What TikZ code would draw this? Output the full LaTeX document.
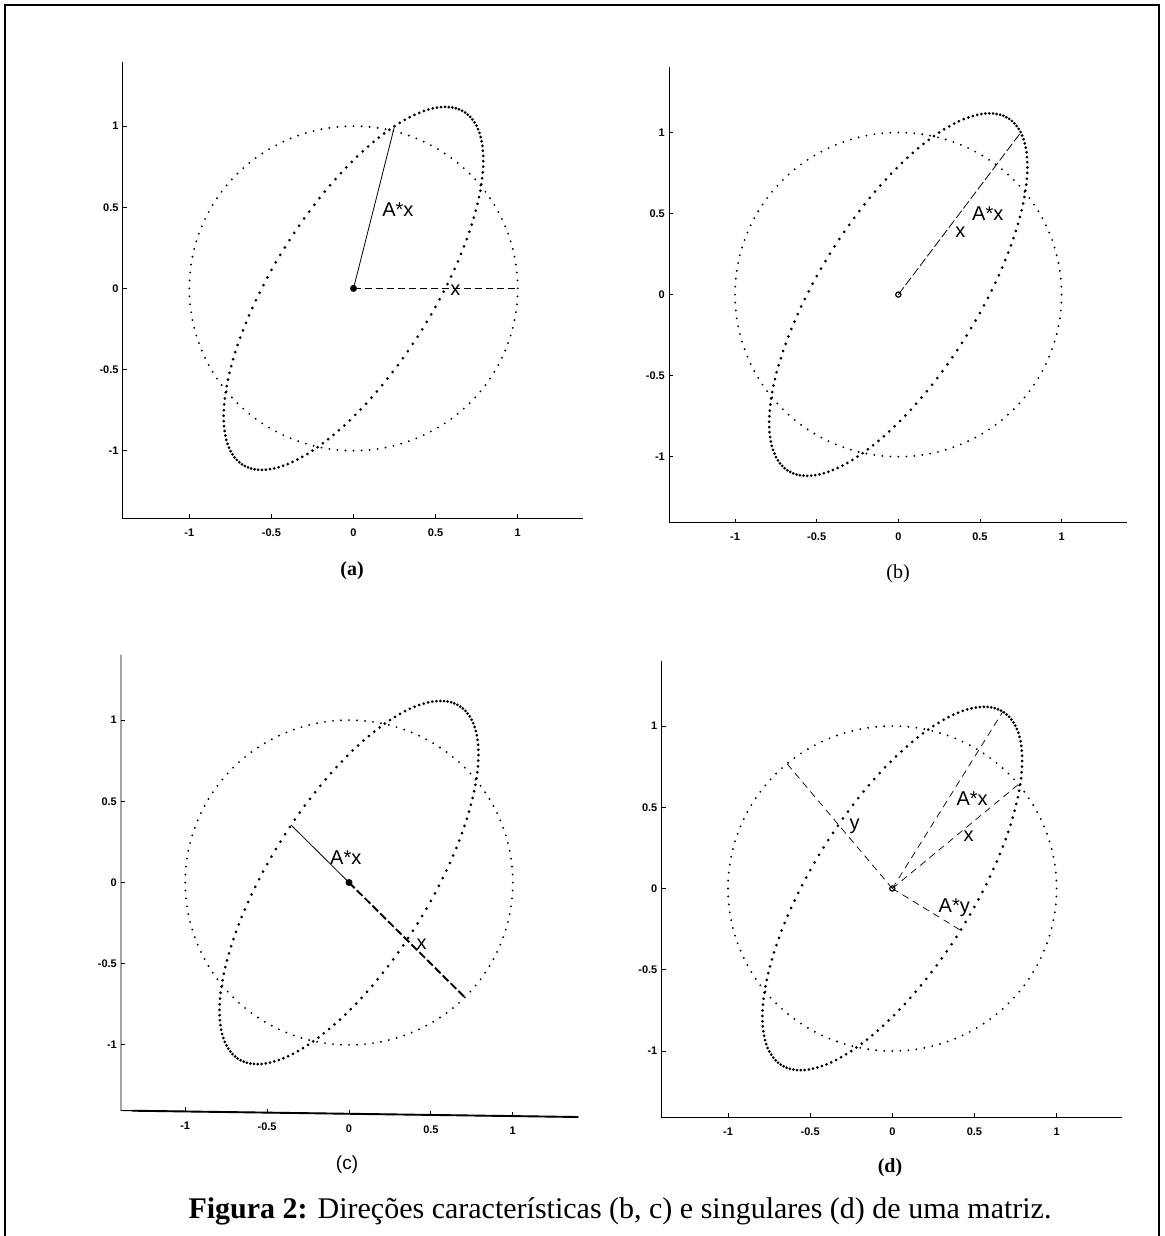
\documentclass[tikz,border=0pt]{standalone}
\usepackage{fontspec}
\setmainfont{Liberation Serif}
\setsansfont{Liberation Sans}
\begin{document}
\tikzset{
  frameline/.style={line width=2.4pt},
  axisline/.style={line width=0.9pt},
  heavyaxis/.style={line width=1.9pt},
  cdot/.style={fill=black},
  edot/.style={fill=black},
  ticklab/.style={font=\sffamily\bfseries\fontsize{11}{12}\selectfont, inner sep=0pt},
  vlab/.style={font=\sffamily\fontsize{20}{21}\selectfont, inner sep=0pt},
  sublab/.style={font=\fontsize{20}{22}\selectfont, inner sep=0pt},
  solidvec/.style={line width=0.8pt},
  dashvec/.style={line width=1.4pt, dash pattern=on 7pt off 4pt},
  longdash/.style={line width=0.8pt, dash pattern=on 9pt off 3pt},
  thickdash/.style={line width=1.9pt, dash pattern=on 8pt off 3pt},
  thindash/.style={line width=0.7pt, dash pattern=on 7pt off 5pt},
  origfill/.style={fill=black},
  origopen/.style={draw=black, line width=1.2pt},
}
% #1 name, #2 ox, #3 oy, #4 sx, #5 sy, #6 axis x, #7 axis top, #8 axis bottom (left), #9 axis bottom (right)
\newcommand\eigpanel[9]{%
  \pgfmathsetmacro\axR{#2+1.4*#4}
  \coordinate (#1-tl) at (#6,#7);
  \coordinate (#1-bl) at (#6,#8);
  \coordinate (#1-br) at (\axR,#9);
  \draw[axisline] (#1-tl) -- (#1-bl) -- (#1-br);
  \foreach \v [count=\k] in {-1,-0.5,0,0.5,1}{
    \pgfmathsetmacro\tx{#2+(\v)*#4}
    \pgfmathsetmacro\ty{#8+(#9-#8)*(\tx-#6)/(\axR-#6)}
    \draw[axisline] ({\tx},{\ty}) -- ({\tx},{\ty-4});
    \node[ticklab] (#1-xl\k) at ({\tx},{\ty+14.5}) {\v};
    \pgfmathsetmacro\yy{#3-(\v)*#5}
    \draw[axisline] ({#6},{\yy}) -- ({#6+4},{\yy});
    \node[ticklab, anchor=east] (#1-yl\k) at ({#6-4},{\yy}) {\v};
  }
  \foreach \i in {0,...,127}{
    \pgfmathsetmacro\px{#2+#4*cos(2.8125*\i)}
    \pgfmathsetmacro\py{#3-#5*sin(2.8125*\i)}
    \fill[cdot] (\px,\py) circle[radius=1.05pt];
  }
  \foreach \i in {0,...,149}{
    \pgfmathsetmacro\px{#2+#4*(0.25*cos(2.4*\i)+0.75*sin(2.4*\i))}
    \pgfmathsetmacro\py{#3-#5*(cos(2.4*\i)+0.5*sin(2.4*\i))}
    \fill[edot] (\px,\py) circle[radius=1.5pt];
  }
}
\begin{tikzpicture}[x=1pt,y=-1pt]
\useasboundingbox (0,0) rectangle (1164,1236);
\fill[white] (0,0) rectangle (1164,1236);
\draw[frameline] (5,1236) -- (5,5) -- (1159,5) -- (1159,1236);

% ---------- (a)
\eigpanel{a}{353.5}{288.4}{164.2}{162.3}{122.7}{61.7}{518}{518}
\begin{scope}[shift={(353.5,288.4)}, xscale=164.2, yscale=-162.3]
  \coordinate (a-O) at (0,0);
  \coordinate (a-x) at (1,0);
  \coordinate (a-Ax) at (0.25,1);
  \node[vlab] (a-lAx) at (0.27,0.485) {A*x};
  \node[vlab] (a-lx) at (0.62,-0.01) {x};
\end{scope}
\draw[dashvec] (a-O) -- (a-x);
\draw[solidvec] (a-O) -- (a-Ax);
\fill[origfill] (a-O) circle[radius=3.5pt];
\node[sublab, font=\bfseries\fontsize{20}{22}\selectfont] (a-cap) at (352,571) {(a)};

% ---------- (b)
\eigpanel{b}{898.3}{294.6}{163.3}{162.1}{669}{67}{522.7}{522.7}
\begin{scope}[shift={(898.3,294.6)}, xscale=163.3, yscale=-162.1]
  \coordinate (b-O) at (0,0);
  \coordinate (b-Ax) at (0.75,1);
  \node[vlab] (b-lAx) at (0.548,0.50) {A*x};
  \node[vlab] (b-lx) at (0.38,0.383) {x};
\end{scope}
\draw[longdash] (b-O) -- (b-Ax);
\draw[origopen] (b-O) circle[radius=2.6pt];
\node[sublab] (b-cap) at (898,574) {(b)};

% ---------- (c)
\eigpanel{c}{349}{882.5}{163.8}{162.4}{121}{654.6}{1110.5}{1117}
\draw[heavyaxis] (132,1110.7) -- (c-br);
\begin{scope}[shift={(349,882.5)}, xscale=163.8, yscale=-162.4]
  \coordinate (c-O) at (0,0);
  \coordinate (c-x) at (0.7071,-0.7071);
  \coordinate (c-Ax) at (-0.3536,0.3536);
  \node[vlab] (c-lAx) at (-0.02,0.153) {A*x};
  \node[vlab] (c-lx) at (0.444,-0.38) {x};
\end{scope}
\draw[solidvec] (c-O) -- (c-Ax);
\draw[thickdash] (c-O) -- (c-x);
\fill[origfill] (c-O) circle[radius=3.5pt];
\node[sublab, font=\sffamily\fontsize{19}{22}\selectfont] (c-cap) at (347,1165) {(c)};

% ---------- (d)
\eigpanel{d}{892.3}{888.5}{164.3}{162.5}{661.5}{661}{1117.3}{1117.3}
\begin{scope}[shift={(892.3,888.5)}, xscale=164.3, yscale=-162.5]
  \coordinate (d-O) at (0,0);
  \coordinate (d-x) at (0.7678,0.6408);
  \coordinate (d-y) at (-0.6408,0.7678);
  \coordinate (d-Ax) at (0.6726,1.0882);
  \coordinate (d-Ay) at (0.4157,-0.2569);
  \node[vlab] (d-lAx) at (0.486,0.552) {A*x};
  \node[vlab] (d-lx) at (0.464,0.322) {x};
  \node[vlab] (d-ly) at (-0.23,0.383) {y};
  \node[vlab] (d-lAy) at (0.377,-0.118) {A*y};
\end{scope}
\draw[thindash] (d-O) -- (d-x);
\draw[thindash] (d-O) -- (d-y);
\draw[thindash] (d-O) -- (d-Ax);
\draw[thindash] (d-O) -- (d-Ay);
\draw[origopen] (d-O) circle[radius=2.6pt];
\node[sublab, font=\bfseries\fontsize{20}{22}\selectfont] (d-cap) at (890,1168) {(d)};

% ---------- caption
\node[inner sep=0pt, font=\fontsize{30}{32}\selectfont] (caption) at (620,1211)
  {\textbf{Figura 2:} Direções características (b, c) e singulares (d) de uma matriz.};
\end{tikzpicture}
\end{document}
